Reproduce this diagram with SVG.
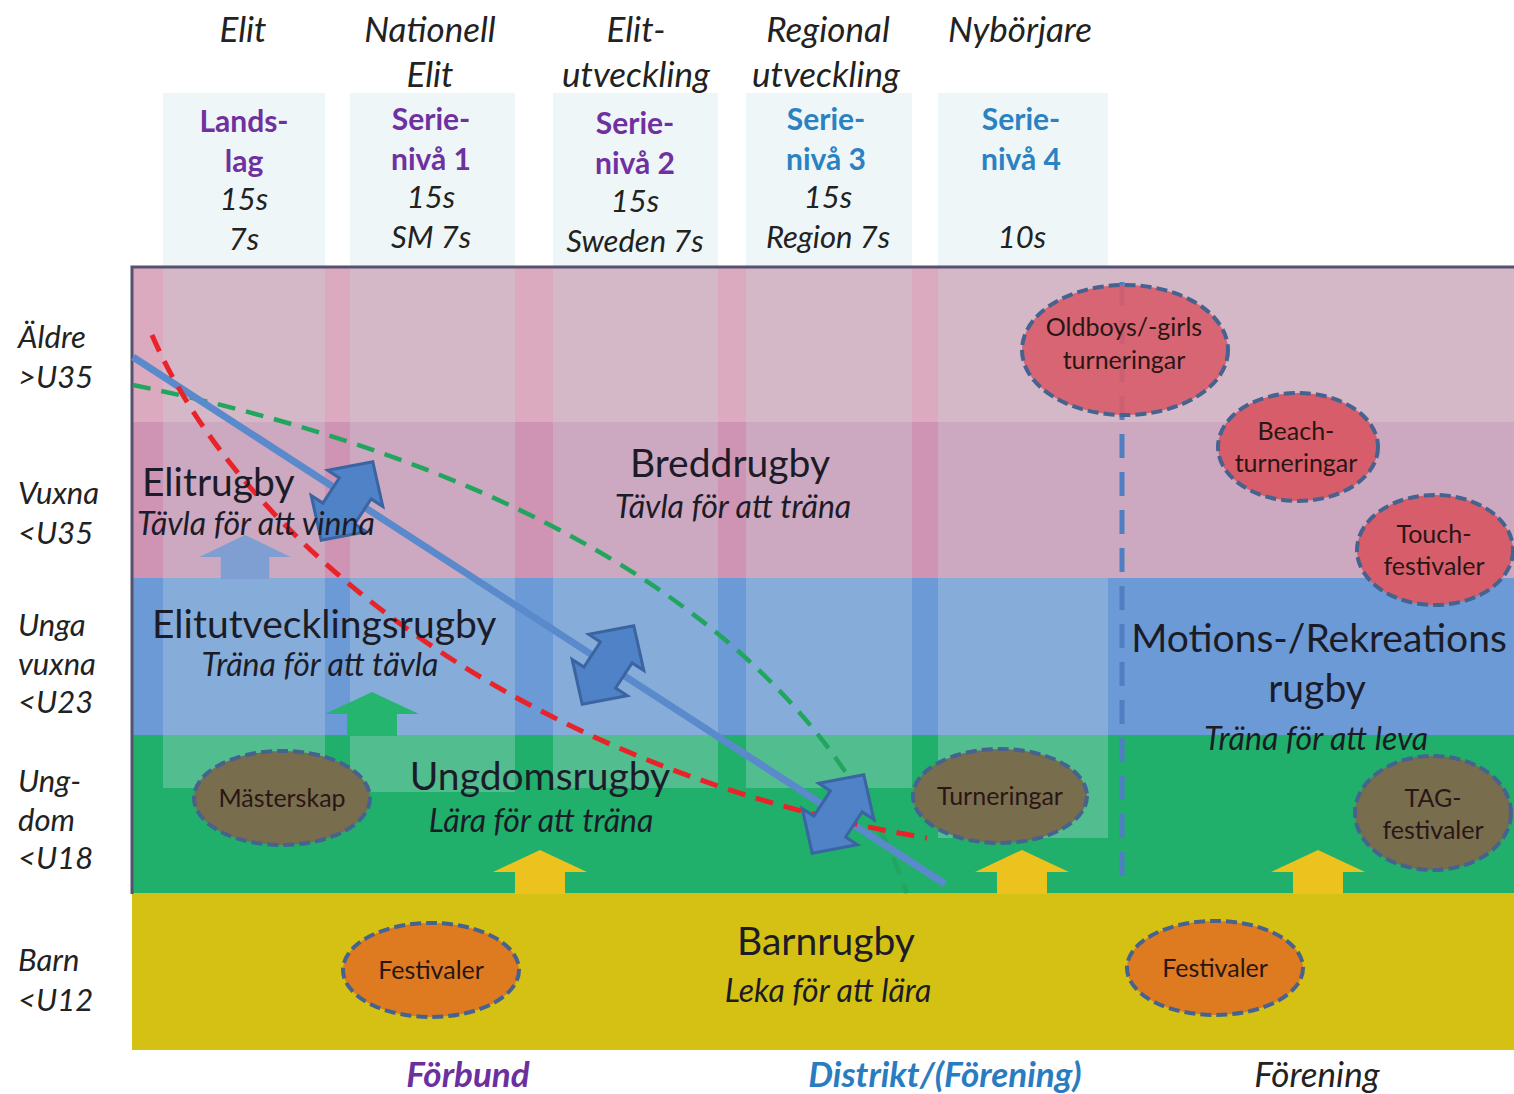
<svg xmlns="http://www.w3.org/2000/svg" width="1514" height="1094" viewBox="0 0 1514 1094">
<defs>
<style>
text{font-family:"Lato","Open Sans","Liberation Sans",sans-serif;fill:#1c1c28}
.hd{font-style:italic;font-size:35px;text-anchor:middle;fill:#222}
.bp{font-weight:bold;font-size:30px;text-anchor:middle;fill:#7030a0}
.bb{font-weight:bold;font-size:30px;text-anchor:middle;fill:#2a82c2}
.it{font-style:italic;font-size:31px;text-anchor:middle;fill:#222}
.age{font-style:italic;font-size:31px;fill:#222}
.ttl{font-size:39px}
.sub{font-style:italic;font-size:32px}
.ell{font-size:25px;text-anchor:middle;fill:#2a1616}
.col{fill:#c6dbe0;opacity:0.3}
.hbox{fill:#eef6f7}
.e{stroke:#46638f;stroke-width:4;stroke-dasharray:11 5}
.dbl{fill:#4f82c6;stroke:#3a64a2;stroke-width:3}
.bot{font-size:35px;font-style:italic;text-anchor:middle}
</style>
<path id="dbl" d="M0,-47 L33,-15 L19,-15 L19,15 L33,15 L0,47 L-33,15 L-19,15 L-19,-15 L-33,-15 Z"/>
<path id="up" d="M0,-44 L47,-22 L25,-22 L25,0 L-25,0 L-25,-22 L-47,-22 Z"/>
</defs>
<rect width="1514" height="1094" fill="#ffffff"/>
<!-- header column boxes -->
<rect class="hbox" x="163" y="93" width="162" height="174"/>
<rect class="hbox" x="350" y="93" width="165" height="174"/>
<rect class="hbox" x="553" y="93" width="165" height="174"/>
<rect class="hbox" x="746" y="93" width="166" height="174"/>
<rect class="hbox" x="938" y="93" width="170" height="174"/>
<!-- bands -->
<rect x="132" y="268" width="1382" height="155" fill="#dcaabe"/>
<rect x="132" y="422" width="1382" height="157" fill="#cf93b3"/>
<rect x="132" y="578" width="1382" height="158" fill="#6b9ad6"/>
<rect x="132" y="735" width="1382" height="159" fill="#20b06b"/>
<rect x="132" y="893" width="1382" height="157" fill="#d5c114"/>
<!-- column overlays -->
<rect class="col" x="163" y="268" width="162" height="520"/>
<rect class="col" x="350" y="268" width="165" height="524"/>
<rect class="col" x="553" y="268" width="165" height="520"/>
<rect class="col" x="746" y="268" width="166" height="520"/>
<rect class="col" x="938" y="268" width="170" height="570"/>
<rect class="col" x="1108" y="268" width="406" height="310" opacity="0.2"/>
<!-- frame -->
<path d="M132,894 L132,267 L1514,267" fill="none" stroke="#55516e" stroke-width="3"/>

<g id="age-labels">
<text class="age" x="18" y="348">Äldre</text><text class="age" x="18" y="388">&gt;U35</text>
<text class="age" x="18" y="504">Vuxna</text><text class="age" x="18" y="544">&lt;U35</text>
<text class="age" x="18" y="636">Unga</text><text class="age" x="18" y="675">vuxna</text><text class="age" x="18" y="713">&lt;U23</text>
<text class="age" x="18" y="792">Ung-</text><text class="age" x="18" y="831">dom</text><text class="age" x="18" y="869">&lt;U18</text>
<text class="age" x="18" y="971">Barn</text><text class="age" x="18" y="1011">&lt;U12</text>
</g>

<g id="col-landslag">
<text class="hd" x="243" y="42">Elit</text>
<text class="bp" x="244" y="132">Lands-</text><text class="bp" x="244" y="172">lag</text>
<text class="it" x="244" y="210">15s</text><text class="it" x="244" y="250">7s</text>
</g>
<g id="col-serie1">
<text class="hd" x="430" y="42">Nationell</text><text class="hd" x="430" y="87">Elit</text>
<text class="bp" x="431" y="130">Serie-</text><text class="bp" x="431" y="170">nivå 1</text>
<text class="it" x="431" y="208">15s</text><text class="it" x="431" y="248">SM 7s</text>
</g>
<g id="col-serie2">
<text class="hd" x="636" y="42">Elit-</text><text class="hd" x="636" y="87">utveckling</text>
<text class="bp" x="635" y="134">Serie-</text><text class="bp" x="635" y="174">nivå 2</text>
<text class="it" x="635" y="212">15s</text><text class="it" x="635" y="252">Sweden 7s</text>
</g>
<g id="col-serie3">
<text class="hd" x="828" y="42">Regional</text><text class="hd" x="826" y="87">utveckling</text>
<text class="bb" x="826" y="130">Serie-</text><text class="bb" x="826" y="170">nivå 3</text>
<text class="it" x="828" y="208">15s</text><text class="it" x="828" y="248">Region 7s</text>
</g>
<g id="col-serie4">
<text class="hd" x="1020" y="42">Nybörjare</text>
<text class="bb" x="1021" y="130">Serie-</text><text class="bb" x="1021" y="170">nivå 4</text>
<text class="it" x="1022" y="248">10s</text>
</g>

<g id="connectors">
<path d="M1122,282 L1122,890" fill="none" stroke="#4f7fc2" stroke-width="5" stroke-dasharray="24 14"/>
<path d="M133,385 C450,450 800,595 907,893" fill="none" stroke="#22a55e" stroke-width="4.5" stroke-dasharray="18 11"/>
<path d="M133,357 L945,884" fill="none" stroke="#5a8acb" stroke-width="7"/>
<path d="M152,335 C240,540 520,770 927,838" fill="none" stroke="#e8242a" stroke-width="5" stroke-dasharray="18 11"/>
<use href="#dbl" class="dbl" transform="translate(347,501) rotate(33.3)"/>
<use href="#dbl" class="dbl" transform="translate(608,665) rotate(33.3)"/>
<use href="#dbl" class="dbl" transform="translate(838,814) rotate(33.3)"/>
<use href="#up" fill="#7f9fd2" transform="translate(245,579) scale(0.97,1)"/>
<use href="#up" fill="#25b56f" transform="translate(372,736)"/>
<use href="#up" fill="#ecc21e" transform="translate(540,894)"/>
<use href="#up" fill="#ecc21e" transform="translate(1022,894)"/>
<use href="#up" fill="#ecc21e" transform="translate(1318,894)"/>
</g>

<g id="elitrugby">
<text class="ttl" x="142" y="496">Elitrugby</text>
<text class="sub" x="137" y="535">Tävla för att vinna</text>
</g>
<g id="breddrugby">
<text class="ttl" x="730" y="477" text-anchor="middle">Breddrugby</text>
<text class="sub" x="733" y="518" text-anchor="middle">Tävla för att träna</text>
</g>
<g id="elitutvecklingsrugby">
<text class="ttl" x="152" y="638">Elitutvecklingsrugby</text>
<text class="sub" x="320" y="676" text-anchor="middle">Träna för att tävla</text>
</g>
<g id="ungdomsrugby">
<text class="ttl" x="540" y="790" text-anchor="middle">Ungdomsrugby</text>
<text class="sub" x="541" y="832" text-anchor="middle">Lära för att träna</text>
</g>
<g id="barnrugby">
<text class="ttl" x="826" y="955" text-anchor="middle">Barnrugby</text>
<text class="sub" x="828" y="1002" text-anchor="middle">Leka för att lära</text>
</g>
<g id="motionsrugby">
<text class="ttl" x="1319" y="652" text-anchor="middle">Motions-/Rekreations</text>
<text class="ttl" x="1317" y="702" text-anchor="middle">rugby</text>
<text class="sub" x="1316" y="750" text-anchor="middle">Träna för att leva</text>
</g>

<g id="oldboys">
<ellipse class="e" cx="1125" cy="350" rx="103" ry="65" fill="#d75d6b" fill-opacity="0.92"/>
<text class="ell" x="1124" y="336">Oldboys/-girls</text><text class="ell" x="1124" y="369">turneringar</text>
</g>
<g id="beach">
<ellipse class="e" cx="1298" cy="447" rx="80" ry="54" fill="#d75d6b"/>
<text class="ell" x="1296" y="440">Beach-</text><text class="ell" x="1296" y="472">turneringar</text>
</g>
<g id="touch">
<ellipse class="e" cx="1435" cy="550" rx="78" ry="55" fill="#d75d6b"/>
<text class="ell" x="1434" y="543">Touch-</text><text class="ell" x="1434" y="575">festivaler</text>
</g>
<g id="masterskap">
<ellipse class="e" cx="282" cy="798" rx="88" ry="47" fill="#786d4d"/>
<text class="ell" x="282" y="807">Mästerskap</text>
</g>
<g id="turneringar">
<ellipse class="e" cx="1000" cy="796" rx="87" ry="47" fill="#786d4d"/>
<text class="ell" x="1000" y="805">Turneringar</text>
</g>
<g id="tag">
<ellipse class="e" cx="1433" cy="813" rx="78" ry="57" fill="#786d4d"/>
<text class="ell" x="1433" y="807">TAG-</text><text class="ell" x="1433" y="839">festivaler</text>
</g>
<g id="festivaler-1">
<ellipse class="e" cx="431" cy="970" rx="88" ry="47" fill="#de7a1f"/>
<text class="ell" x="431" y="979">Festivaler</text>
</g>
<g id="festivaler-2">
<ellipse class="e" cx="1215" cy="968" rx="88" ry="47" fill="#de7a1f"/>
<text class="ell" x="1215" y="977">Festivaler</text>
</g>

<g id="bottom-labels">
<text class="bot" x="468" y="1087" font-weight="bold" style="fill:#6b2fa0">Förbund</text>
<text class="bot" x="945" y="1087" font-weight="bold" style="fill:#2a7cc0">Distrikt/(Förening)</text>
<text class="bot" x="1317" y="1087" style="fill:#222">Förening</text>
</g>
</svg>
